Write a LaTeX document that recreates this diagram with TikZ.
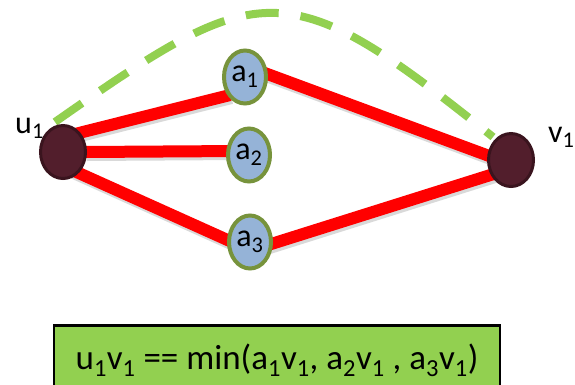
\documentclass[tikz,border=0pt]{standalone}
\usepackage{fontspec}
\setmainfont{Carlito}
\usetikzlibrary{shapes.geometric,calc,backgrounds}
\definecolor{edgered}{HTML}{FF0000}
\definecolor{arcgreen}{HTML}{92D050}
\definecolor{midfill}{HTML}{95B3D7}
\definecolor{midborder}{HTML}{77933C}
\definecolor{endfill}{HTML}{521E2C}
\definecolor{endborder}{HTML}{3A141E}
\definecolor{boxgreen}{HTML}{92D050}
\begin{document}
\begin{tikzpicture}[x=1pt,y=-1pt,
  midnode/.style={ellipse,draw=midborder,line width=4pt,fill=midfill,minimum width=42pt,minimum height=53pt,inner sep=0pt,font=\fontsize{32}{36}\selectfont},
  endnode/.style={ellipse,draw=endborder,line width=3pt,fill=endfill,minimum width=45pt,minimum height=53pt,inner sep=0pt},
  redge/.style={draw=edgered,line width=12pt,preaction={draw=black,opacity=0.15,line width=12pt,transform canvas={shift={(1.5,3)}}}},
  arcline/.style={draw=arcgreen,line width=8pt,dash pattern=on 33pt off 22pt},
  lbl/.style={inner sep=0pt,font=\fontsize{32}{36}\selectfont},
  formula/.style={draw=black,line width=2.5pt,fill=boxgreen,minimum width=446pt,inner xsep=0pt,inner ysep=20pt,text height=24pt,text depth=10pt,font=\fontsize{35}{40}\selectfont}
]
\useasboundingbox (0,0) rectangle (575,384);
\node[endnode] (u1) at (63,152) {};
\node[endnode] (v1) at (511,160) {};
\node[midnode] (a1) at (245,77) {a\textsubscript{1}};
\node[midnode] (a2) at (249,155) {a\textsubscript{2}};
\node[midnode] (a3) at (250,242) {a\textsubscript{3}};
\node[lbl,anchor=base west] (lu) at (15,133) {u\textsubscript{1}};
\node[lbl,anchor=base west] (lv) at (548,142) {v\textsubscript{1}};
\begin{pgfonlayer}{background}
\draw[arcline] ($(u1)+(-8,-30)$) .. controls +(207,-145) and +(-207,-166) .. ($(v1)+(-18,-23)$);
\draw[redge] ($(u1)+(12,-18)$) -- ($(a1)+(-15,18)$);
\draw[redge] ($(u1)+(22,0)$) -- ($(a2)+(-10,-4)$);
\draw[redge] ($(u1)+(9,18)$) -- ($(a3)+(-18,0)$);
\draw[redge] ($(a1)+(17,-5)$) -- ($(v1)+(-11,0)$);
\draw[redge] ($(a3)+(18,3)$) -- ($(v1)+(-11,12)$);
\end{pgfonlayer}
\node[formula,anchor=north] (eq) at (277,324) {u\textsubscript{1}v\textsubscript{1} == min(a\textsubscript{1}v\textsubscript{1}, a\textsubscript{2}v\textsubscript{1} , a\textsubscript{3}v\textsubscript{1})};
\end{tikzpicture}
\end{document}
